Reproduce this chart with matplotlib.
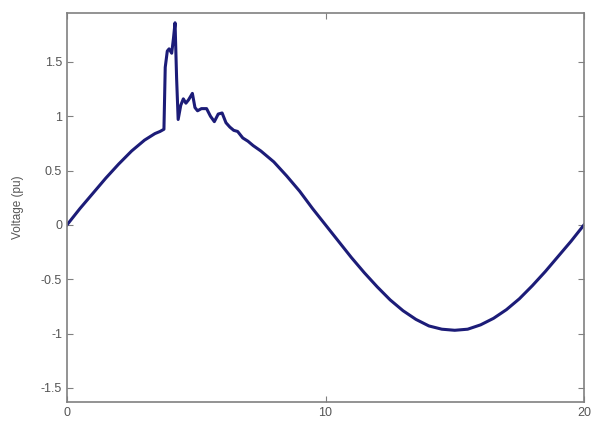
import matplotlib
matplotlib.use("Agg")
import matplotlib.pyplot as plt

# Data
time_x = [0, 0.5, 1, 1.5, 2, 2.5, 3, 3.4, 3.6, 3.75,
          3.8, 3.88, 3.95, 4.05, 4.12, 4.18, 4.24, 4.3, 4.4, 4.5, 4.6, 4.7, 4.85, 4.95,
          5.05, 5.2, 5.4, 5.55, 5.7, 5.85, 6.0, 6.15, 6.3, 6.45, 6.6, 6.8, 7.0, 7.2,
          7.5, 8.0, 8.5, 9.0, 9.5, 10.0, 10.5, 11.0, 11.5, 12.0, 12.5, 13.0, 13.5,
          14.0, 14.5, 15.0, 15.5, 16.0, 16.5, 17.0, 17.5, 18.0, 18.5, 19.0, 19.5, 20.0]
voltage = [0.0, 0.15, 0.29, 0.43, 0.56, 0.68, 0.78, 0.84, 0.86, 0.88,
           1.45, 1.60, 1.62, 1.58, 1.72, 1.86, 1.35, 0.97, 1.10, 1.16, 1.12, 1.15, 1.21, 1.08,
           1.05, 1.07, 1.07, 1.00, 0.95, 1.02, 1.03, 0.94, 0.90, 0.87, 0.86, 0.80, 0.77, 0.73,
           0.68, 0.58, 0.45, 0.31, 0.15, 0.0, -0.15, -0.30, -0.44, -0.57, -0.69, -0.79, -0.87,
           -0.93, -0.96, -0.97, -0.96, -0.92, -0.86, -0.78, -0.68, -0.56, -0.43, -0.29, -0.15, 0.0]

x_ticks = [0, 10, 20]
y_ticks = [-1.5, -1, -0.5, 0, 0.5, 1, 1.5]
y_tick_labels = ["-1.5", "-1", "-0.5", "0", "0.5", "1", "1.5"]
y_label = "Voltage (pu)"

plt.rcParams['font.family'] = ['Liberation Sans', 'DejaVu Sans']

fig = plt.figure(figsize=(5.93, 4.25), dpi=100)
ax = fig.add_axes([67/593, 23/425, (584-67)/593, (402-13)/425])
ax.plot(time_x, voltage, color='#1c1c78', linewidth=2.2, solid_joinstyle='round')

ax.set_xlim(0, 20)
ax.set_ylim(-1.63, 1.95)
ax.set_xticks(x_ticks)
ax.set_xticklabels([str(t) for t in x_ticks])
ax.set_yticks(y_ticks)
ax.set_yticklabels(y_tick_labels)
ax.set_ylabel(y_label, fontsize=8.5, color='#555555', labelpad=12)

for s in ax.spines.values():
    s.set_color('#808080')
    s.set_linewidth(1.2)
ax.tick_params(direction='in', length=4, width=0.8, color='#808080',
               labelsize=9, labelcolor='#555555', top=True, right=True)

fig.savefig("out.png", dpi=100)
